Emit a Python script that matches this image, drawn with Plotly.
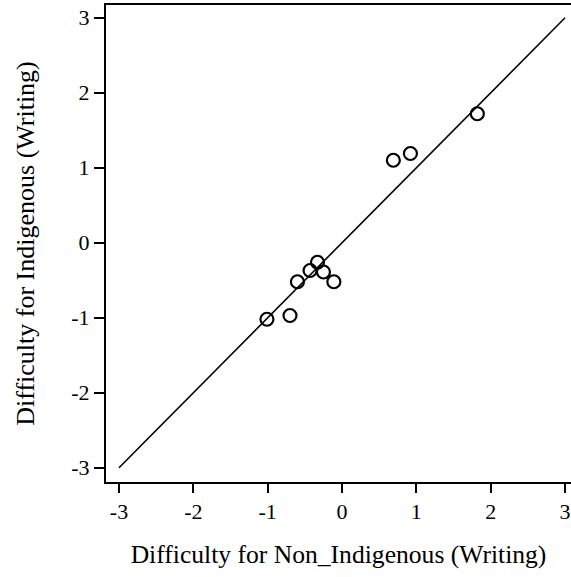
import plotly.graph_objects as go

non_indigenous = [-1.01, -0.70, -0.60, -0.43, -0.33, -0.25, -0.11, 0.69, 0.92, 1.82]
indigenous = [-1.02, -0.97, -0.52, -0.37, -0.26, -0.39, -0.52, 1.10, 1.19, 1.72]
identity_line = [-3, 3]
tick_vals = [-3, -2, -1, 0, 1, 2, 3]
tick_text = ["-3", "-2", "-1", "0", "1", "2", "3"]

fig = go.Figure()
fig.add_trace(go.Scatter(x=identity_line, y=identity_line, mode="lines",
                         line=dict(color="black", width=1.6), showlegend=False,
                         hoverinfo="skip"))
fig.add_trace(go.Scatter(x=non_indigenous, y=indigenous, mode="markers",
                         marker=dict(symbol="circle-open", size=13, color="black",
                                     line=dict(width=2.2, color="black")),
                         showlegend=False))

font_family = "Liberation Serif, Times New Roman, serif"
fig.update_layout(
    width=571, height=577,
    margin=dict(l=106, r=0, t=5, b=95),
    plot_bgcolor="white", paper_bgcolor="white",
    font=dict(family=font_family, color="black", size=22),
    xaxis=dict(range=[-3.175, 3.08], tickvals=tick_vals, ticktext=tick_text,
               ticks="outside", ticklen=9, tickwidth=2, tickcolor="black",
               showline=True, linecolor="black", linewidth=2, mirror=True,
               showgrid=False, zeroline=False,
               tickfont=dict(family=font_family, size=22),
               title=dict(text="Difficulty for Non_Indigenous (Writing)",
                          font=dict(family=font_family, size=25.6), standoff=22)),
    yaxis=dict(range=[-3.19, 3.17], tickvals=tick_vals, ticktext=tick_text,
               ticks="outside", ticklen=10, tickwidth=2, tickcolor="black",
               showline=True, linecolor="black", linewidth=2, mirror=False,
               showgrid=False, zeroline=False,
               tickfont=dict(family=font_family, size=22),
               title=dict(text="Difficulty for Indigenous (Writing)",
                          font=dict(family=font_family, size=26), standoff=29)),
)

fig.write_html("out.html", config={"displayModeBar": False},
               post_script="document.body.style.margin='0px';")
